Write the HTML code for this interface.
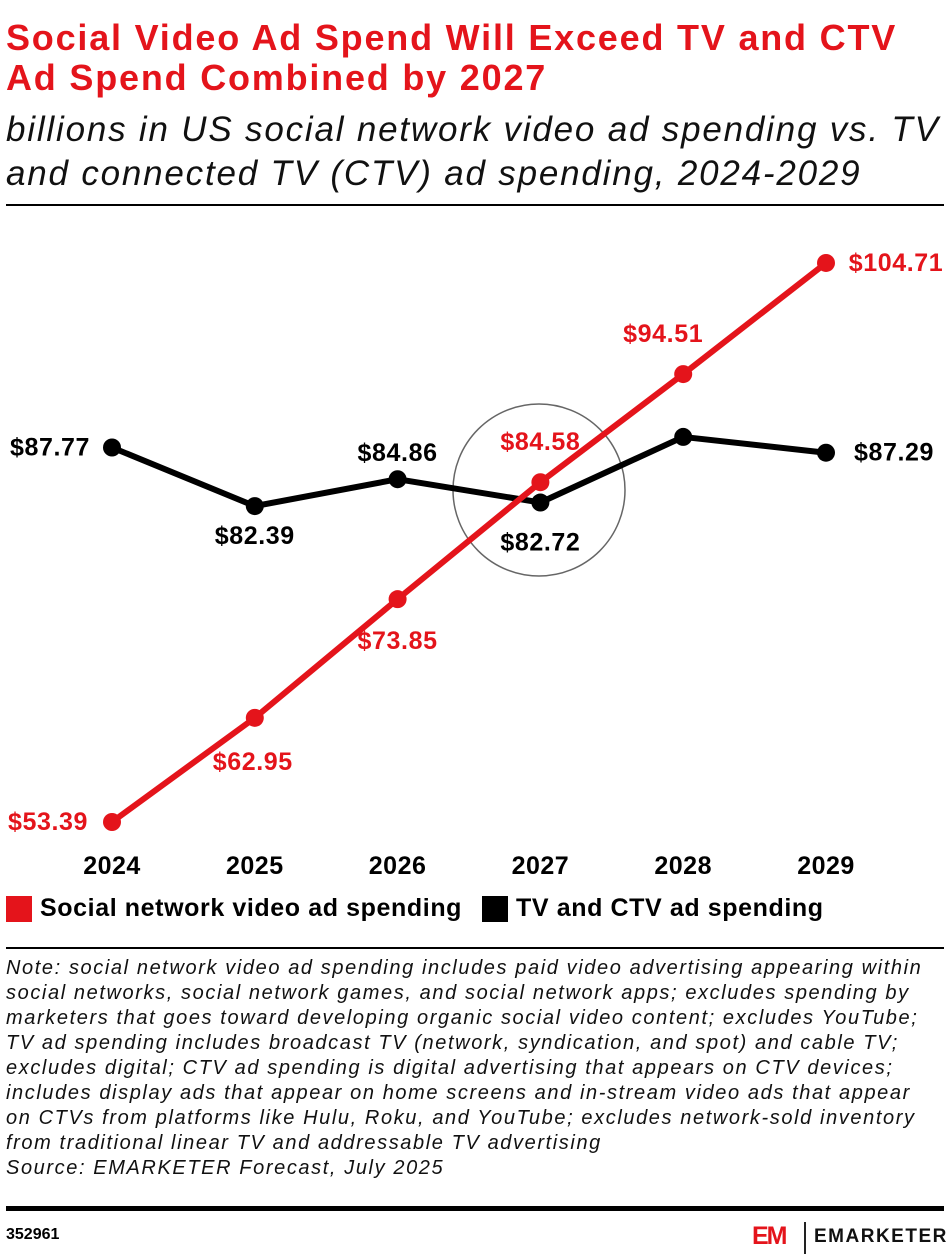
<!DOCTYPE html>
<html><head><meta charset="utf-8">
<style>
body{margin:0;width:948px;height:1258px;background:#fff;font-family:"Liberation Sans",sans-serif;position:relative;overflow:hidden}
.abs{position:absolute}
#title{left:6px;top:18px;font-size:36px;font-weight:bold;color:#e4141b;line-height:40px;letter-spacing:1.8px;white-space:nowrap}
#sub{left:6px;top:108px;font-size:35px;font-style:italic;color:#111;line-height:44px;letter-spacing:1.8px;white-space:nowrap}
.rule{left:6px;width:938px;background:#000}
#note{left:6px;top:956px;font-size:20px;font-style:italic;color:#111;line-height:25px;letter-spacing:1.6px;white-space:nowrap}
</style></head><body>
<div class="abs" id="title">Social Video Ad Spend Will Exceed TV and CTV<br>Ad Spend Combined by 2027</div>
<div class="abs" id="sub">billions in US social network video ad spending vs. TV<br>and connected TV (CTV) ad spending, 2024-2029</div>
<div class="abs rule" style="top:204px;height:2px"></div>
<svg class="abs" style="left:0;top:0" width="948" height="940" id="chart"></svg>
<div class="abs rule" style="top:947px;height:2px"></div>
<div class="abs" id="note">Note: social network video ad spending includes paid video advertising appearing within<br>social networks, social network games, and social network apps; excludes spending by<br>marketers that goes toward developing organic social video content; excludes YouTube;<br>TV ad spending includes broadcast TV (network, syndication, and spot) and cable TV;<br>excludes digital; CTV ad spending is digital advertising that appears on CTV devices;<br>includes display ads that appear on home screens and in-stream video ads that appear<br>on CTVs from platforms like Hulu, Roku, and YouTube; excludes network-sold inventory<br>from traditional linear TV and addressable TV advertising<br>Source: EMARKETER Forecast, July 2025</div>
<div class="abs rule" style="top:1206px;height:5px"></div>
<div class="abs" style="left:6px;top:1226px;font-size:16px;font-weight:bold">352961</div>
<div class="abs" style="left:752px;top:1222px;font-size:25px;font-weight:900;color:#e4141b;letter-spacing:-2px">EM</div>
<div class="abs" style="left:804px;top:1222px;width:2px;height:32px;background:#222"></div>
<div class="abs" style="left:814px;top:1226px;font-size:19px;font-weight:bold;letter-spacing:1.5px;color:#111">EMARKETER</div>
<script>
const years=["2024","2025","2026","2027","2028","2029"];
const social=[53.39,62.95,73.85,84.58,94.51,104.71];
const tv=[87.77,82.39,84.86,82.72,88.74,87.29];
const socialLabels=["$53.39","$62.95","$73.85","$84.58","$94.51","$104.71"];
const tvLabels=["$87.77","$82.39","$84.86","$82.72","","$87.29"];
const NS="http://www.w3.org/2000/svg";
const svg=document.getElementById('chart');
const xs=i=>112+i*142.8;
const ys=v=>822-(v-53.39)*10.893;
function el(t,a,txt){const e=document.createElementNS(NS,t);for(const k in a)e.setAttribute(k,a[k]);if(txt!==undefined)e.textContent=txt;svg.appendChild(e);return e;}
const RED="#e4141b";
const circ=el('circle',{cx:539,cy:490,r:86,fill:'none',stroke:'#666','stroke-width':1.5});


function series(vals,color,name){
 const p=el('polyline',{points:vals.map((v,i)=>xs(i)+','+ys(v)).join(' '),fill:'none',stroke:color,'stroke-width':6,'stroke-linejoin':'round'});
 
 
 vals.forEach((v,i)=>{const c=el('circle',{cx:xs(i),cy:ys(v),r:9,fill:color});
 
 });
}
series(tv,'#000','tv');
series(social,RED,'social');
const sOff=[[-64,8],[-2,52],[0,50],[0,-32],[-20,-32],[70,8]];
const tOff=[[-62,8],[0,38],[0,-18],[0,48],[0,0],[68,8]];
function lab(vals,labels,off,color,name){
 vals.forEach((v,i)=>{if(!labels[i])return;
 const t=el('text',{x:xs(i)+off[i][0],y:ys(v)+off[i][1],'text-anchor':'middle','font-size':25,'font-weight':'bold','letter-spacing':0.6,fill:color},labels[i]);
 
 });
}
lab(social,socialLabels,sOff,RED,'social');
lab(tv,tvLabels,tOff,'#000','tv');
years.forEach((y,i)=>{const t=el('text',{x:xs(i),y:874,'text-anchor':'middle','font-size':25,'font-weight':'bold','letter-spacing':0.5,fill:'#000'},y);
 
 });
const l1=el('rect',{x:6,y:896,width:26,height:26,fill:RED});


const l1t=el('text',{x:40,y:916,'font-size':25,'font-weight':'bold','letter-spacing':0.6},'Social network video ad spending');


const l2=el('rect',{x:482,y:896,width:26,height:26,fill:'#000'});


const l2t=el('text',{x:516,y:916,'font-size':25,'font-weight':'bold','letter-spacing':0.6},'TV and CTV ad spending');


</script>
</body></html>
